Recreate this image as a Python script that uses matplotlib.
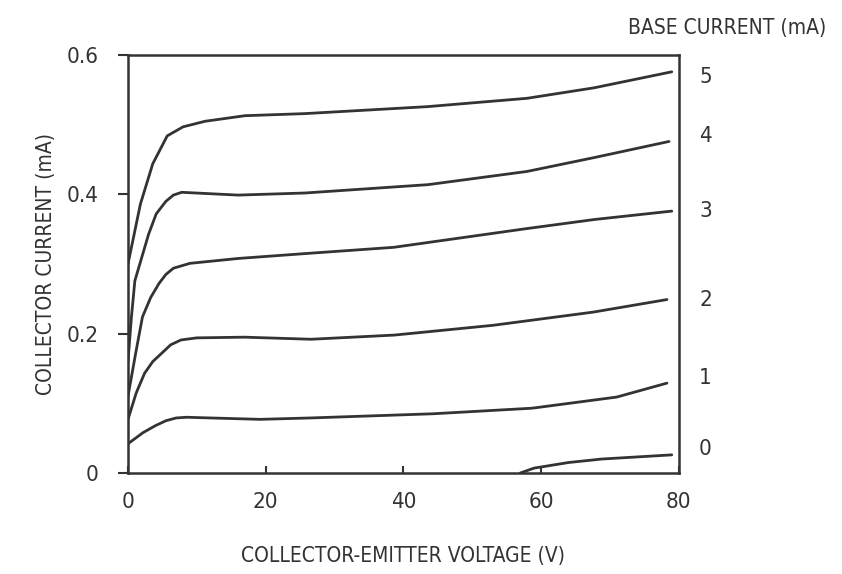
import matplotlib
matplotlib.use("Agg")
import matplotlib.pyplot as plt

plt.rcParams['font.family'] = ['Liberation Sans Narrow', 'DejaVu Sans']
plt.rcParams['font.stretch'] = 'condensed'

# base current curves (V, mA)
v5 = [0, 1.8, 3.6, 5.7, 8, 11.2, 17, 25.7, 43.5, 58, 67.7, 79]
i5 = [0.30, 0.386, 0.444, 0.484, 0.497, 0.505, 0.513, 0.516, 0.526, 0.538, 0.553, 0.576]

v4 = [0, 0.5, 1.0, 3.0, 4.1, 5.5, 6.6, 7.8, 16, 25.7, 43.6, 58, 67.8, 78.6]
i4 = [0.16, 0.224, 0.276, 0.343, 0.372, 0.390, 0.399, 0.403, 0.399, 0.402, 0.414, 0.433, 0.453, 0.476]

v3 = [0, 1.1, 2.1, 3.3, 4.5, 5.5, 6.6, 9, 16, 25.7, 38.6, 58, 67.8, 79]
i3 = [0.11, 0.171, 0.224, 0.252, 0.272, 0.285, 0.294, 0.301, 0.308, 0.315, 0.324, 0.351, 0.364, 0.376]

v2 = [0, 1.2, 2.4, 3.6, 4.8, 6.2, 7.7, 10, 16.9, 26.6, 38.7, 53, 67.6, 78.3]
i2 = [0.077, 0.115, 0.143, 0.160, 0.171, 0.184, 0.191, 0.194, 0.195, 0.192, 0.198, 0.212, 0.231, 0.249]

v1 = [0, 2.2, 4.0, 5.5, 7, 8.5, 12, 19.2, 26.5, 44.3, 58.7, 71, 78.3]
i1 = [0.042, 0.058, 0.068, 0.075, 0.079, 0.080, 0.079, 0.077, 0.079, 0.085, 0.093, 0.109, 0.129]

v0 = [57, 59, 64, 68.8, 79]
i0 = [0, 0.007, 0.015, 0.020, 0.026]

base_labels = ['5', '4', '3', '2', '1', '0']
label_y = [0.569, 0.484, 0.376, 0.249, 0.136, 0.034]

xticks = [0, 20, 40, 60, 80]
yticks = [0, 0.2, 0.4, 0.6]
yticklabels = ['0', '0.2', '0.4', '0.6']

ink = '#333333'

fig = plt.figure(figsize=(8.42, 5.74), dpi=100)
ax = fig.add_axes([0.152, 0.176, 0.654, 0.728])

for v, i in [(v5, i5), (v4, i4), (v3, i3), (v2, i2), (v1, i1), (v0, i0)]:
    ax.plot(v, i, color=ink, lw=2.0, solid_joinstyle='round', solid_capstyle='round')

ax.set_xlim(0, 80)
ax.set_ylim(0, 0.6)
ax.set_xticks(xticks)
ax.set_xticklabels([str(x) for x in xticks])
ax.set_yticks(yticks)
ax.set_yticklabels(yticklabels)
ax.tick_params(axis='x', direction='in', length=5, width=1.5, pad=14, labelsize=16, colors=ink)
ax.tick_params(axis='y', direction='out', length=7, width=1.5, pad=14, labelsize=16, colors=ink)
for s in ax.spines.values():
    s.set_linewidth(1.8)
    s.set_color(ink)

for lab, y in zip(base_labels, label_y):
    ax.text(83.9, y, lab, ha='center', va='center', fontsize=16, color=ink, clip_on=False)

ax.set_xlabel('COLLECTOR-EMITTER VOLTAGE (V)', fontsize=15, color=ink, labelpad=24)
ax.set_ylabel('COLLECTOR CURRENT (mA)', fontsize=15, color=ink, labelpad=8)
fig.text(727 / 842, 1 - 28 / 574, 'BASE CURRENT (mA)', ha='center', va='center',
         fontsize=15, color=ink)

fig.savefig('out.png', dpi=100, facecolor='white')
